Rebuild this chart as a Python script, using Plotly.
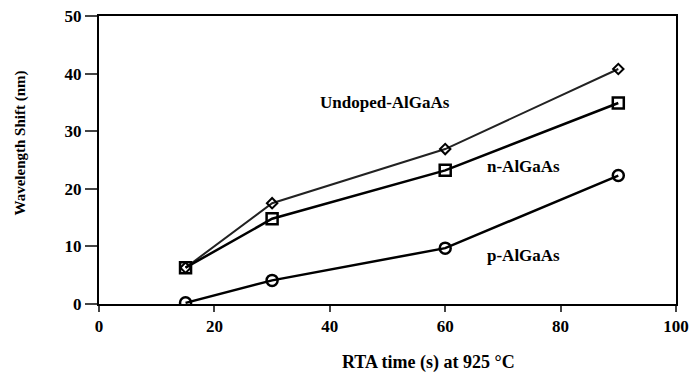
import plotly.graph_objects as go

time_s = [15, 30, 60, 90]
undoped = [6.3, 17.5, 26.9, 40.8]
n_algaas = [6.3, 14.8, 23.2, 34.9]
p_algaas = [0.2, 4.1, 9.7, 22.3]

x_ticks = [0, 20, 40, 60, 80, 100]
y_ticks = [0, 10, 20, 30, 40, 50]

FONT = "Liberation Serif"
L, R, T, B = 99, 14, 16, 83
PW = 690 - L - R
PH = 387 - T - B

fig = go.Figure()
fig.add_trace(go.Scatter(
    x=time_s, y=undoped, mode="lines+markers", name="Undoped-AlGaAs",
    line=dict(color="#222222", width=2),
    marker=dict(symbol="diamond-open", size=8, color="black", line=dict(width=2))))
fig.add_trace(go.Scatter(
    x=time_s, y=n_algaas, mode="lines+markers", name="n-AlGaAs",
    line=dict(color="black", width=2.5),
    marker=dict(symbol="square-open", size=11, color="black", line=dict(width=2.5))))
fig.add_trace(go.Scatter(
    x=time_s, y=p_algaas, mode="lines+markers", name="p-AlGaAs",
    line=dict(color="black", width=2.5),
    marker=dict(symbol="circle-open", size=11, color="black", line=dict(width=2.5))))

labels = [("Undoped-AlGaAs", 49.5, 34.9), ("n-AlGaAs", 73.5, 23.8), ("p-AlGaAs", 73.5, 8.4)]
for txt, lx, ly in labels:
    fig.add_annotation(x=lx, y=ly, text="<b>%s</b>" % txt, showarrow=False,
                       xanchor="center", yanchor="middle",
                       font=dict(family=FONT, size=17, color="black"))

fig.add_annotation(xref="paper", yref="paper", x=(428 - L) / PW, y=-(362 - (387 - B)) / PH,
                   text="<b>RTA time (s) at 925 °C</b>", showarrow=False,
                   xanchor="center", yanchor="middle",
                   font=dict(family=FONT, size=18, color="black"))
fig.add_annotation(xref="paper", yref="paper", x=-(L - 20) / PW, y=((387 - B) - 143.5) / PH,
                   text="<b>Wavelength Shift (nm)</b>", showarrow=False, textangle=-90,
                   xanchor="center", yanchor="middle",
                   font=dict(family=FONT, size=15, color="black"))

tickfont = dict(family=FONT, size=17, color="black", weight="bold")
fig.update_layout(
    width=690, height=387, showlegend=False,
    paper_bgcolor="white", plot_bgcolor="white",
    margin=dict(l=L, r=R, t=T, b=B, autoexpand=False),
    font=dict(family=FONT, size=15, color="black"),
    xaxis=dict(range=[0, 100], tickvals=x_ticks, ticks="outside", ticklen=6, tickwidth=2,
               showline=True, linewidth=2, linecolor="black", mirror=True,
               showgrid=False, zeroline=False, automargin=False, tickfont=tickfont,
               ticklabeloverflow="allow"),
    yaxis=dict(range=[0, 50], tickvals=y_ticks, ticks="outside", ticklen=12, tickwidth=2,
               showline=True, linewidth=2, linecolor="black", mirror=True,
               showgrid=False, zeroline=False, automargin=False, tickfont=tickfont,
               ticklabeloverflow="allow"),
)

fig.write_html("out.html")
